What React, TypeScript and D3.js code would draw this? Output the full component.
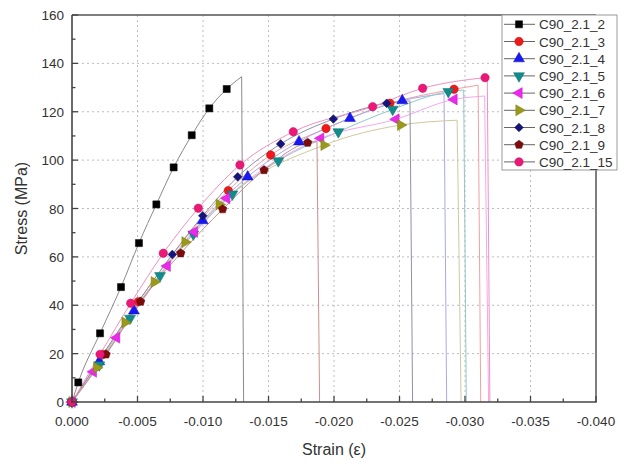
import React from "react";
import * as d3 from "d3";

type P = [number, number];

const seriesNames = ["C90_2.1_2", "C90_2.1_3", "C90_2.1_4", "C90_2.1_5", "C90_2.1_6", "C90_2.1_7", "C90_2.1_8", "C90_2.1_9", "C90_2.1_15"];
const markerColors = ["#000000", "#f01818", "#1818f0", "#108c8c", "#ec28ec", "#9a9a18", "#14147a", "#7a0c0c", "#ec1878"];
const lineColors = ["#8a8a8a", "#f0a0a0", "#a8a8ec", "#90c8c8", "#f0a8f0", "#d0c8a0", "#9090a8", "#c89090", "#f090c0"];
const symbolKinds = ["square", "circle", "up", "down", "left", "right", "diamond", "pentagon", "circle"];

const xTicks = [0, -0.005, -0.01, -0.015, -0.02, -0.025, -0.03, -0.035, -0.04];
const yTicks = [0, 20, 40, 60, 80, 100, 120, 140, 160];

// strain, stress (MPa)
const s2Markers: P[] = [[0, 0], [-0.00048, 8.1], [-0.00214, 28.4], [-0.00374, 47.5], [-0.00511, 65.7], [-0.00644, 81.7], [-0.00776, 97.0], [-0.00914, 110.3], [-0.01048, 121.4], [-0.01181, 129.4]];
const s2Tail: P[] = [[-0.01295, 134.5], [-0.0131, 0]];
const s3Markers: P[] = [[0, 0], [-0.00237, 19.7], [-0.00506, 41.5], [-0.01193, 87.4], [-0.01517, 102.1], [-0.01939, 113.1], [-0.02427, 123.5], [-0.02916, 129.3]];
const s3Tail: P[] = [[-0.0310, 131.0], [-0.0312, 0]];
const s4Markers: P[] = [[0, 0], [-0.00208, 16.7], [-0.00473, 37.7], [-0.00998, 75.0], [-0.01341, 93.1], [-0.01733, 107.6], [-0.02122, 117.3], [-0.02521, 124.6]];
const s4Tail: P[] = [[-0.0284, 127.5], [-0.0286, 0]];
const s5Markers: P[] = [[0, 0], [-0.00208, 15.3], [-0.00443, 34.6], [-0.00672, 52.2], [-0.00926, 69.4], [-0.01224, 85.9], [-0.01575, 99.7], [-0.02033, 111.7], [-0.02448, 121.0], [-0.02873, 128.3]];
const s5Tail: P[] = [[-0.0299, 129.0], [-0.0301, 0]];
const s6Markers: P[] = [[0, 0], [-0.00163, 12.5], [-0.00341, 26.6], [-0.00727, 56.2], [-0.00934, 70.3], [-0.01181, 84.2], [-0.01898, 109.0], [-0.02473, 116.9], [-0.02916, 125.1]];
const s6Tail: P[] = [[-0.0315, 126.5], [-0.0318, 0]];
const s7Markers: P[] = [[0, 0], [-0.00189, 14.2], [-0.00405, 32.9], [-0.00628, 49.6], [-0.00863, 66.1], [-0.01124, 81.7], [-0.01924, 106.2], [-0.02509, 114.5]];
const s7Tail: P[] = [[-0.0294, 116.5], [-0.0297, 0]];
const s8Markers: P[] = [[0, 0], [-0.00766, 61.0], [-0.00998, 77.0], [-0.01265, 93.1], [-0.01593, 106.7], [-0.01995, 117.0], [-0.02402, 123.5]];
const s8Tail: P[] = [[-0.0258, 124.5], [-0.0260, 0]];
const s9Markers: P[] = [[0, 0], [-0.0026, 19.7], [-0.00524, 41.5], [-0.0083, 61.5], [-0.0115, 79.7], [-0.01466, 95.9], [-0.01799, 107.2]];
const s9Tail: P[] = [[-0.0187, 107.6], [-0.0189, 0]];
const s15Markers: P[] = [[0, 0], [-0.00214, 19.7], [-0.00448, 40.8], [-0.00697, 61.5], [-0.00964, 80.1], [-0.01282, 98.0], [-0.01689, 111.7], [-0.02295, 122.1], [-0.02677, 129.7], [-0.03153, 134.1]];
const s15Tail: P[] = [[-0.0317, 134.2], [-0.0319, 0]];

const allMarkers = [s2Markers, s3Markers, s4Markers, s5Markers, s6Markers, s7Markers, s8Markers, s9Markers, s15Markers];
const allTails = [s2Tail, s3Tail, s4Tail, s5Tail, s6Tail, s7Tail, s8Tail, s9Tail, s15Tail];

const W = 632, H = 464;
const L = 72, R = 596, T = 15, B = 402;

const x = d3.scaleLinear().domain([0, -0.04]).range([L, R]);
const y = d3.scaleLinear().domain([0, 160]).range([B, T]);

function symbolPath(kind: string): { d: string; rot: number } {
  const tri = d3.symbol(d3.symbolTriangle, 52)()!;
  switch (kind) {
    case "square": return { d: d3.symbol(d3.symbolSquare, 50)()!, rot: 0 };
    case "circle": return { d: d3.symbol(d3.symbolCircle, 56)()!, rot: 0 };
    case "up": return { d: tri, rot: 0 };
    case "down": return { d: tri, rot: 180 };
    case "left": return { d: tri, rot: -90 };
    case "right": return { d: tri, rot: 90 };
    case "diamond": return { d: d3.symbol(d3.symbolSquare, 38)()!, rot: 45 };
    case "pentagon": {
      const r = 4.5;
      const pts = d3.range(5).map((i) => {
        const a = -Math.PI / 2 + (i * 2 * Math.PI) / 5;
        return [r * Math.cos(a), r * Math.sin(a)];
      });
      return { d: "M" + pts.map((p) => p.join(",")).join("L") + "Z", rot: 0 };
    }
  }
  return { d: d3.symbol(d3.symbolCircle, 50)()!, rot: 0 };
}

export default function App() {
  const curveGen = d3.line<P>().x((d) => x(d[0])).y((d) => y(d[1])).curve(d3.curveMonotoneX);
  const linGen = d3.line<P>().x((d) => x(d[0])).y((d) => y(d[1]));
  const xMinor = d3.range(0, 17).map((i) => -0.0025 * i);
  const yMinor = d3.range(0, 17).map((i) => 10 * i);
  const font = "Arial, 'Liberation Sans', sans-serif";

  return (
    <svg width={W} height={H} style={{ position: "absolute", left: 0, top: 0, background: "#fff" }} fontFamily={font}>
      <rect x={0} y={0} width={W} height={H} fill="#fff" />
      {/* grid */}
      {xTicks.slice(1, -1).map((t) => (
        <line key={"gx" + t} x1={x(t)} x2={x(t)} y1={T} y2={B} stroke="#bdbdbd" strokeWidth={1} strokeDasharray="2,3" />
      ))}
      {yTicks.slice(1, -1).map((t) => (
        <line key={"gy" + t} x1={L} x2={R} y1={y(t)} y2={y(t)} stroke="#bdbdbd" strokeWidth={1} strokeDasharray="2,3" />
      ))}
      {/* curves */}
      {allMarkers.map((m, i) => {
        const tail = allTails[i];
        const rising = [...m, tail[0]];
        return (
          <g key={"c" + i} fill="none" stroke={lineColors[i]} strokeWidth={1}>
            <path d={curveGen(rising)!} />
            <path d={linGen(tail)!} />
          </g>
        );
      })}
      {/* markers */}
      {allMarkers.map((m, i) => {
        const s = symbolPath(symbolKinds[i]);
        return (
          <g key={"m" + i}>
            {m.map((p, j) => (
              <path key={j} d={s.d} transform={`translate(${x(p[0])},${y(p[1])}) rotate(${s.rot})`} fill={markerColors[i]} stroke={d3.color(markerColors[i])!.darker(0.6).toString()} strokeWidth={0.5} />
            ))}
          </g>
        );
      })}
      {/* frame */}
      <line x1={L} x2={R} y1={T} y2={T} stroke="#555" strokeWidth={1.5} />
      <line x1={R} x2={R} y1={T} y2={B} stroke="#555" strokeWidth={1.5} />
      <line x1={L} x2={L} y1={T} y2={B + 0.75} stroke="#444" strokeWidth={1.6} />
      <line x1={L - 0.75} x2={R + 0.75} y1={B} y2={B} stroke="#444" strokeWidth={1.6} />
      {/* ticks */}
      {xMinor.map((t, i) => (
        <line key={"xt" + i} x1={x(t)} x2={x(t)} y1={B} y2={B - (i % 2 === 0 ? 6 : 3.5)} stroke="#444" strokeWidth={1.3} />
      ))}
      {yMinor.map((t, i) => (
        <line key={"yt" + i} x1={L} x2={L + (i % 2 === 0 ? 6 : 3.5)} y1={y(t)} y2={y(t)} stroke="#444" strokeWidth={1.3} />
      ))}
      {xTicks.map((t) => (
        <text key={"xl" + t} x={x(t)} y={426} textAnchor="middle" fontSize={13.5} fill="#333">
          {d3.format(".3f")(t).replace("−", "-")}
        </text>
      ))}
      {yTicks.map((t) => (
        <text key={"yl" + t} x={64} y={y(t) + 5} textAnchor="end" fontSize={13.5} fill="#333">
          {t}
        </text>
      ))}
      <text x={334} y={455} textAnchor="middle" fontSize={16} fill="#333">Strain (ε)</text>
      <text transform={`translate(27,${(T + B) / 2}) rotate(-90)`} textAnchor="middle" fontSize={16} fill="#333">Stress (MPa)</text>
      {/* legend */}
      <rect x={502} y={15} width={115} height={155} fill="#fff" stroke="#9a9a9a" strokeWidth={1} />
      {seriesNames.map((n, i) => {
        const cy = 24.3 + i * 17.2;
        const s = symbolPath(symbolKinds[i]);
        return (
          <g key={"lg" + i}>
            <line x1={504} x2={535} y1={cy} y2={cy} stroke="#666" strokeWidth={1} />
            <path d={s.d} transform={`translate(519,${cy}) rotate(${s.rot})`} fill={markerColors[i]} stroke={d3.color(markerColors[i])!.darker(0.6).toString()} strokeWidth={0.5} />
            <text x={539} y={cy + 5} fontSize={13.5} fill="#333">{n}</text>
          </g>
        );
      })}
    </svg>
  );
}
